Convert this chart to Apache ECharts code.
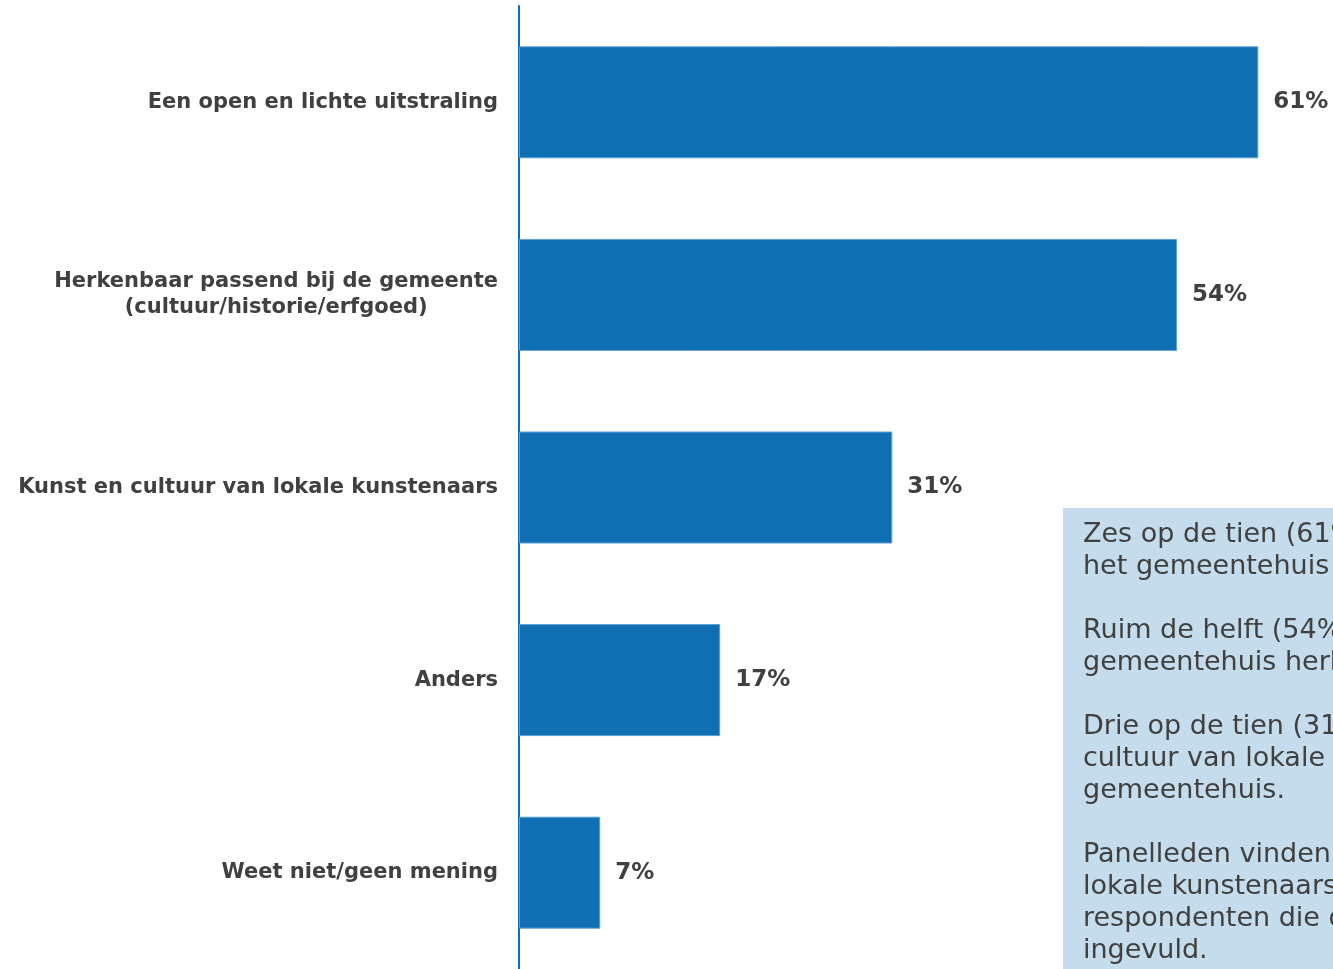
<!DOCTYPE html>
<html>
<head>
<meta charset="utf-8">
<script src="https://cdn.jsdelivr.net/npm/echarts@6/dist/echarts.min.js"></script>
<style>
  html, body { margin: 0; padding: 0; background: #fff; }
  #chartContainer { width: 1333px; height: 969px; }
</style>
</head>
<body>
<div id="chartContainer"></div>
<script>
// Categories and shares (percent)
const categories = [
    'Een open en lichte uitstraling',
    'Herkenbaar passend bij de gemeente\n(cultuur/historie/erfgoed)',
    'Kunst en cultuur van lokale kunstenaars',
    'Anders',
    'Weet niet/geen mening'
];
const shares = [61.0, 54.3, 30.8, 16.6, 6.7];

// Text in the side panel
const panelLines = [
    'Zes op de tien (61%) vinden dat',
    'het gemeentehuis een open en lichte uitstraling moet hebben.',
    '',
    'Ruim de helft (54%) vindt het',
    'gemeentehuis herkenbaar passend bij de gemeente.',
    '',
    'Drie op de tien (31%) willen kunst en',
    'cultuur van lokale kunstenaars in het',
    'gemeentehuis.',
    '',
    'Panelleden vinden het belangrijk dat',
    'lokale kunstenaars een plek krijgen, aldus',
    'respondenten die de open vraag hebben',
    'ingevuld.'
];

const textColor = '#404040';
const barColor = '#106fb3';
const fontName = 'DejaVu Sans';

const myChart = echarts.init(document.getElementById('chartContainer'));

const panelText = panelLines.map((line, i) => ({
    type: 'text',
    left: 1083,
    top: 521 + i * 32,
    z: 101,
    style: {
        text: line,
        fill: textColor,
        fontFamily: fontName,
        fontSize: 27
    }
}));

const option = {
    animation: false,
    textStyle: { fontFamily: fontName },
    grid: { left: 519, top: 6, width: 812, height: 969 },
    xAxis: {
        type: 'value',
        min: 0,
        max: 67,
        show: false
    },
    yAxis: {
        type: 'category',
        inverse: true,
        data: categories,
        axisLine: { show: true, lineStyle: { color: barColor, width: 2 } },
        axisTick: { show: false },
        axisLabel: {
            margin: 21,
            align: 'right',
            // each line centred in the label block, the block right-aligned
            formatter: value => value.split('\n').map(l => '{c|' + l + '}').join('\n'),
            rich: {
                c: {
                    align: 'center',
                    color: textColor,
                    fontFamily: fontName,
                    fontWeight: 'bold',
                    fontSize: 21,
                    lineHeight: 26
                }
            }
        }
    },
    series: [{
        type: 'bar',
        data: shares,
        barWidth: 112,
        itemStyle: { color: barColor, borderColor: '#5c9fd6', borderWidth: 1 },
        label: {
            show: true,
            position: 'right',
            distance: 15,
            formatter: p => Math.round(p.value) + '%',
            color: textColor,
            fontFamily: fontName,
            fontWeight: 'bold',
            fontSize: 23
        }
    }],
    graphic: [{
        type: 'rect',
        shape: { x: 1063, y: 508, width: 280, height: 470 },
        z: 100,
        style: { fill: '#c5dcec' }
    }].concat(panelText)
};

myChart.setOption(option);
</script>
</body>
</html>
